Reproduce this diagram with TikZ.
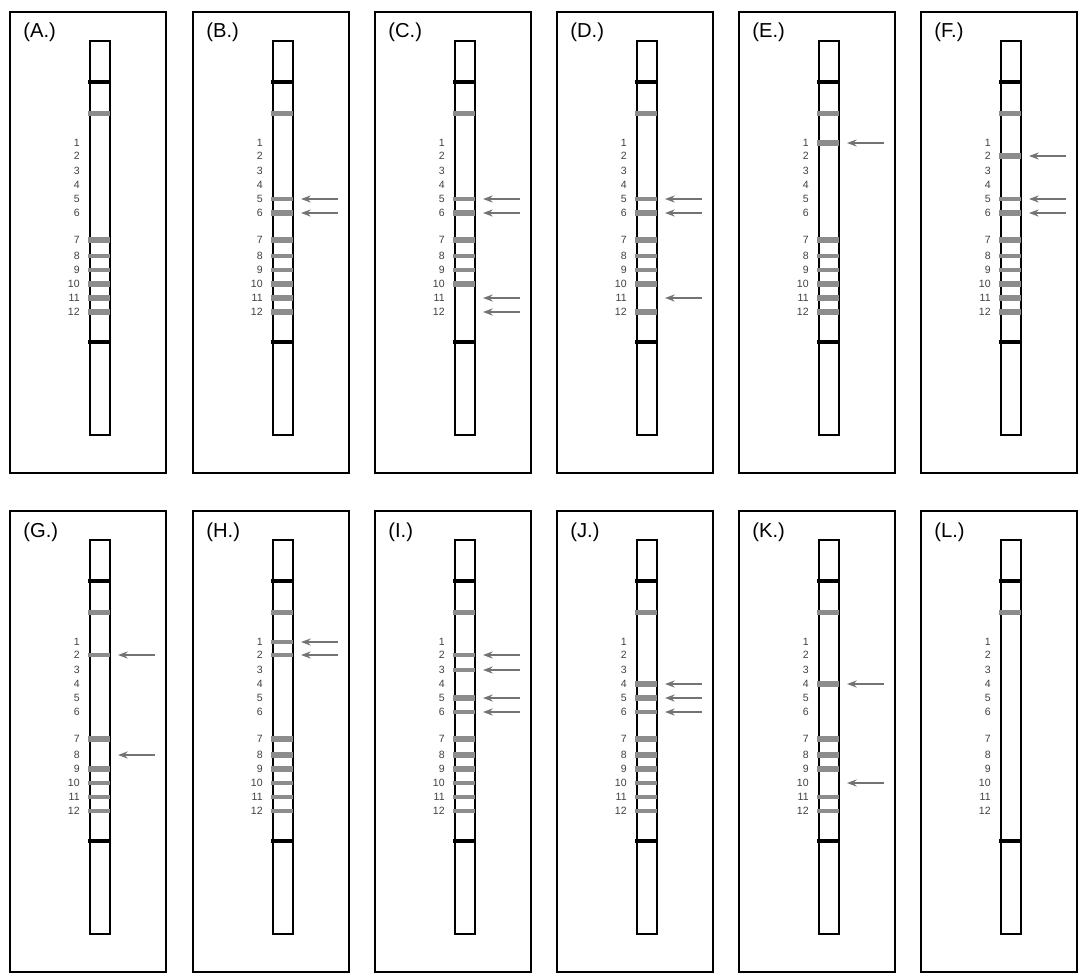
\documentclass[tikz,border=0pt]{standalone}
\usepackage{fontspec}
\setmainfont{Liberation Sans}
\usetikzlibrary{arrows.meta}

% band rows 1..12, measured from the top of a panel
\def\bandpos{{0,132,145,160,174,188,202,229,245,259,273,287,301}}

% #1 name, #2 x, #3 y, #4 label, #5 thick bands, #6 thin bands, #7 arrows
\newcommand{\gellane}[7]{%
  \begin{scope}[shift={(#2,#3)}]
    \node[panel] (#1) at (0,0) {};
    \node[lbl] (#1-lbl) at (14,12) {#4};
    \node[strip] (#1-strip) at (80,29) {};
    \draw[darkband] (79,71) -- (101,71);
    \draw[darkband] (79,331) -- (101,331);
    \fill[bandgray] (79,99.5) rectangle (101,105);
    \foreach \k in {1,...,12}{
      \pgfmathsetmacro{\yy}{\bandpos[\k]}
      \node[num] (#1-n\k) at (71,\yy) {\k};
    }
    \foreach \k in {#5}{
      \pgfmathsetmacro{\yy}{\bandpos[\k]}
      \fill[bandgray] (79,\yy-3.2) rectangle (101,\yy+3.2);
    }
    \foreach \k in {#6}{
      \pgfmathsetmacro{\yy}{\bandpos[\k]}
      \fill[bandgray] (79,\yy-1.9) rectangle (101,\yy+1.9);
    }
    \foreach \k in {#7}{
      \pgfmathsetmacro{\yy}{\bandpos[\k]}
      \coordinate (#1-tip\k) at (109,\yy);
      \coordinate (#1-tail\k) at (146,\yy);
      \draw[pointer] (#1-tail\k) -- (#1-tip\k);
    }
  \end{scope}}

\begin{document}
\begin{tikzpicture}[
    x=0.02cm, y=-0.02cm,
    panel/.style={draw, line width=1.1pt, minimum width=3.12cm, minimum height=9.22cm, inner sep=0pt, anchor=north west},
    strip/.style={draw, line width=1.1pt, fill=white, minimum width=0.4cm, minimum height=7.88cm, inner sep=0pt, anchor=north west},
    lbl/.style={anchor=north west, inner sep=0pt, font=\fontsize{11.5}{13}\selectfont},
    num/.style={anchor=east, inner sep=0pt, text=black!75, font=\fontsize{6}{7}\selectfont},
    darkband/.style={line width=2.3pt},
    bandgray/.style={fill=black!45},
    pointer/.style={draw=black!55, line width=1pt, -{Stealth[length=5.5pt,width=4pt]}}
]
\useasboundingbox (0,0) rectangle (1078,974);

% top row
\gellane{A}{9}{11}{(A.)}{7,10,11,12}{8,9}{}
\gellane{B}{192}{11}{(B.)}{6,7,10,11,12}{5,8,9}{5,6}
\gellane{C}{374}{11}{(C.)}{6,7,10}{5,8,9}{5,6,11,12}
\gellane{D}{556}{11}{(D.)}{6,7,10,12}{5,8,9}{5,6,11}
\gellane{E}{738}{11}{(E.)}{1,7,10,11,12}{8,9}{1}
\gellane{F}{920}{11}{(F.)}{2,6,7,10,11,12}{5,8,9}{2,5,6}

% bottom row
\gellane{G}{9}{510}{(G.)}{7,9}{2,10,11,12}{2,8}
\gellane{H}{192}{510}{(H.)}{7,8,9}{1,2,10,11,12}{1,2}
\gellane{I}{374}{510}{(I.)}{5,7,8,9}{2,3,6,10,11,12}{2,3,5,6}
\gellane{J}{556}{510}{(J.)}{4,5,7,8,9}{6,10,11,12}{4,5,6}
\gellane{K}{738}{510}{(K.)}{4,7,8,9}{11,12}{4,10}
\gellane{L}{920}{510}{(L.)}{}{}{}
\end{tikzpicture}
\end{document}
